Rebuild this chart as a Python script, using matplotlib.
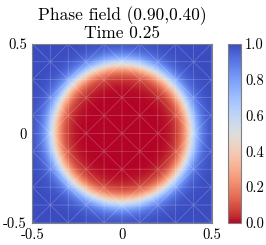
import numpy as np
import matplotlib
matplotlib.use('Agg')
import matplotlib.pyplot as plt
import matplotlib.tri as mtri

plt.rcParams['font.family'] = 'serif'
plt.rcParams['font.serif'] = ['cmr10', 'DejaVu Serif']
plt.rcParams['mathtext.fontset'] = 'cm'

# Figure text
title_str = 'Phase field (0.90,0.40)\nTime 0.25'
xticks = [-0.5, 0, 0.5]
xtick_labels = ['-0.5', '0', '0.5']
yticks = [-0.5, 0, 0.5]
ytick_labels = ['-0.5', '0', '0.5']
cb_ticks = [0.0, 0.2, 0.4, 0.6, 0.8, 1.0]
cb_labels = ['0.0', '0.2', '0.4', '0.6', '0.8', '1.0']

# Droplet
center = (0.0, 0.0)
radius = 0.385
eps = 0.045
mesh_n = 10

# Field
n = 300
xs = np.linspace(-0.5, 0.5, n)
X, Y = np.meshgrid(xs, xs)
R = np.hypot(X - center[0], Y - center[1])
phi = 0.5 * (1 + np.tanh((R - radius) / (np.sqrt(2) * eps)))

fig = plt.figure(figsize=(2.66, 2.45), dpi=100)
ax = fig.add_axes([0.120, 0.090, 0.677, 0.731])
im = ax.imshow(phi, extent=(-0.5, 0.5, -0.5, 0.5), origin='lower',
               cmap='coolwarm_r', vmin=0, vmax=1, interpolation='bilinear')

# faint mesh
g = np.linspace(-0.5, 0.5, mesh_n + 1)
GX, GY = np.meshgrid(g, g)
px = GX.ravel(); py = GY.ravel()
tris = []
for j in range(mesh_n):
    for i in range(mesh_n):
        a = j * (mesh_n + 1) + i
        b = a + 1
        c = a + mesh_n + 1
        d = c + 1
        if (i + j) % 2 == 0:
            tris += [[a, b, d], [a, d, c]]
        else:
            tris += [[a, b, c], [b, d, c]]
tri = mtri.Triangulation(px, py, tris)
ax.triplot(tri, color='white', lw=0.5, alpha=0.25)

ax.set_xlim(-0.5, 0.5); ax.set_ylim(-0.5, 0.5)
ax.set_xticks(xticks); ax.set_xticklabels(xtick_labels)
ax.set_yticks(yticks); ax.set_yticklabels(ytick_labels)
ax.tick_params(length=0, pad=4, labelsize=10.5)
for s in ax.spines.values():
    s.set_color('gray')
ax.set_title(title_str, fontsize=12.5, linespacing=1.05, pad=4)

cax = fig.add_axes([0.857, 0.090, 0.049, 0.731])
cb = fig.colorbar(im, cax=cax, ticks=cb_ticks)
cb.ax.set_yticklabels(cb_labels)
cb.ax.tick_params(length=0, pad=3, labelsize=10.5)
cb.outline.set_edgecolor('gray')

fig.savefig('out.png', dpi=100)
